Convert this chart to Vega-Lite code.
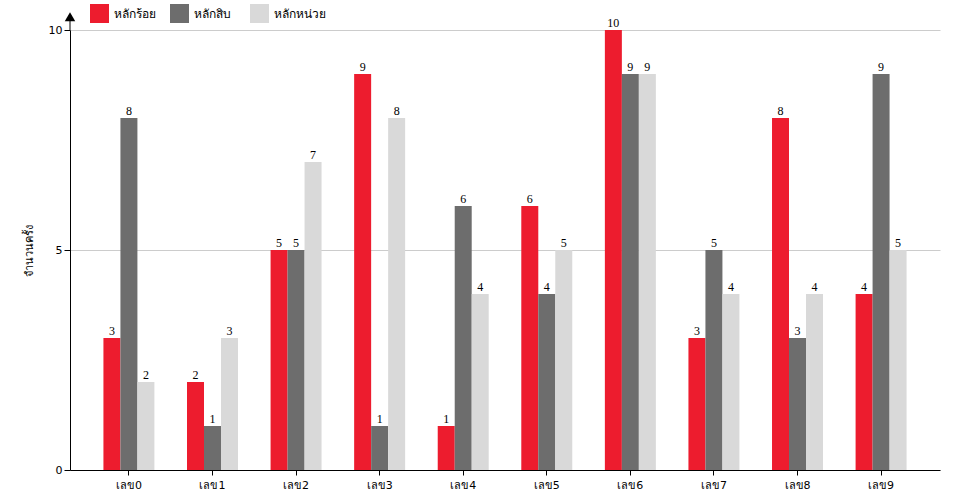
{
  "$schema": "https://vega.github.io/schema/vega-lite/v6.json",
  "width": 870,
  "height": 440,
  "autosize": {"type": "none"},
  "padding": {"left": 70, "top": 30, "right": 20, "bottom": 30},
  "background": "white",
  "config": {
    "view": {"stroke": null},
    "font": "DejaVu Sans",
    "axis": {"labelFont": "DejaVu Sans", "titleFont": "DejaVu Sans"}
  },
  "datasets": {
    "counts": [
      {"digit": "เลข0", "series": "หลักร้อย", "count": 3},
      {"digit": "เลข0", "series": "หลักสิบ", "count": 8},
      {"digit": "เลข0", "series": "หลักหน่วย", "count": 2},
      {"digit": "เลข1", "series": "หลักร้อย", "count": 2},
      {"digit": "เลข1", "series": "หลักสิบ", "count": 1},
      {"digit": "เลข1", "series": "หลักหน่วย", "count": 3},
      {"digit": "เลข2", "series": "หลักร้อย", "count": 5},
      {"digit": "เลข2", "series": "หลักสิบ", "count": 5},
      {"digit": "เลข2", "series": "หลักหน่วย", "count": 7},
      {"digit": "เลข3", "series": "หลักร้อย", "count": 9},
      {"digit": "เลข3", "series": "หลักสิบ", "count": 1},
      {"digit": "เลข3", "series": "หลักหน่วย", "count": 8},
      {"digit": "เลข4", "series": "หลักร้อย", "count": 1},
      {"digit": "เลข4", "series": "หลักสิบ", "count": 6},
      {"digit": "เลข4", "series": "หลักหน่วย", "count": 4},
      {"digit": "เลข5", "series": "หลักร้อย", "count": 6},
      {"digit": "เลข5", "series": "หลักสิบ", "count": 4},
      {"digit": "เลข5", "series": "หลักหน่วย", "count": 5},
      {"digit": "เลข6", "series": "หลักร้อย", "count": 10},
      {"digit": "เลข6", "series": "หลักสิบ", "count": 9},
      {"digit": "เลข6", "series": "หลักหน่วย", "count": 9},
      {"digit": "เลข7", "series": "หลักร้อย", "count": 3},
      {"digit": "เลข7", "series": "หลักสิบ", "count": 5},
      {"digit": "เลข7", "series": "หลักหน่วย", "count": 4},
      {"digit": "เลข8", "series": "หลักร้อย", "count": 8},
      {"digit": "เลข8", "series": "หลักสิบ", "count": 3},
      {"digit": "เลข8", "series": "หลักหน่วย", "count": 4},
      {"digit": "เลข9", "series": "หลักร้อย", "count": 4},
      {"digit": "เลข9", "series": "หลักสิบ", "count": 9},
      {"digit": "เลข9", "series": "หลักหน่วย", "count": 5}
    ],
    "arrow": [{"px": 0, "ybase": 10, "ytip": 10.3, "yarrow": 10.3}]
  },
  "layer": [
    {
      "data": {"name": "counts"},
      "layer": [
        {
          "mark": {"type": "bar"},
          "encoding": {
            "x": {
              "field": "digit", "type": "nominal", "sort": null,
              "scale": {"paddingInner": 0.39, "paddingOuter": 0.4},
              "axis": {"title": null, "labelAngle": 0, "domainColor": "black", "tickColor": "black", "labelColor": "black", "labelFontSize": 11, "tickSize": 5, "labelPadding": 4, "grid": false}
            },
            "xOffset": {"field": "series", "type": "nominal", "sort": ["หลักร้อย", "หลักสิบ", "หลักหน่วย"], "scale": {"paddingInner": 0, "paddingOuter": 0}},
            "y": {
              "field": "count", "type": "quantitative",
              "scale": {"domain": [0, 10]},
              "axis": {"title": "จำนวนครั้ง", "values": [0, 5, 10], "domainColor": "black", "tickColor": "black", "labelColor": "black", "labelFontSize": 11, "tickSize": 6, "titleFontSize": 11, "titleFontWeight": "normal", "titleColor": "black", "titlePadding": 14, "gridColor": "#cccccc"}
            },
            "color": {
              "field": "series", "type": "nominal",
              "sort": ["หลักร้อย", "หลักสิบ", "หลักหน่วย"],
              "scale": {"domain": ["หลักร้อย", "หลักสิบ", "หลักหน่วย"], "range": ["#ED1C2E", "#6D6D6D", "#D9D9D9"]},
              "legend": {"title": null, "orient": "none", "legendX": 20, "legendY": -26, "direction": "horizontal", "columns": 3, "gridAlign": "all", "columnPadding": 4, "symbolType": "square", "symbolSize": 361, "symbolStrokeWidth": 0, "symbolOpacity": 1, "labelFontSize": 12, "labelColor": "black", "labelOffset": 5}
            }
          }
        },
        {
          "mark": {"type": "text", "dy": -7, "font": "Liberation Serif", "fontSize": 12, "color": "black"},
          "encoding": {
            "x": {"field": "digit", "type": "nominal", "sort": null},
            "xOffset": {"field": "series", "type": "nominal", "sort": ["หลักร้อย", "หลักสิบ", "หลักหน่วย"]},
            "y": {"field": "count", "type": "quantitative"},
            "text": {"field": "count", "type": "quantitative"}
          }
        }
      ]
    },
    {
      "data": {"name": "arrow"},
      "layer": [
        {
          "mark": {"type": "rule", "color": "black"},
          "encoding": {
            "x": {"field": "px", "type": "quantitative", "scale": {"domain": [0, 1]}, "axis": null},
            "y": {"field": "ybase", "type": "quantitative"},
            "y2": {"field": "ytip"}
          }
        },
        {
          "mark": {"type": "point", "shape": "triangle-up", "filled": true, "color": "black", "size": 110, "opacity": 1},
          "encoding": {
            "x": {"field": "px", "type": "quantitative", "scale": {"domain": [0, 1]}, "axis": null},
            "y": {"field": "yarrow", "type": "quantitative"}
          }
        }
      ],
      "resolve": {"scale": {"x": "shared"}}
    }
  ],
  "resolve": {"scale": {"x": "independent"}}
}
